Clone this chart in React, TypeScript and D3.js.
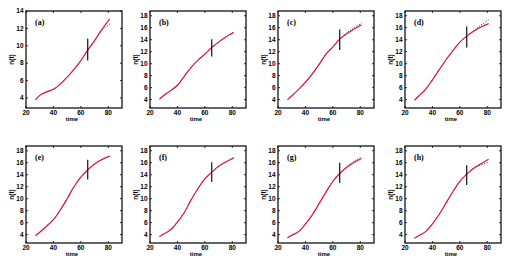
import * as d3 from "d3";

// shared time grid
const TIME = [27, 30, 35, 40, 45, 50, 55, 60, 65, 70, 75, 81];
const X_TICKS = [20, 40, 60, 80];
const Y_TICKS_A = [4, 6, 8, 10, 12, 14];
const Y_TICKS = [4, 6, 8, 10, 12, 14, 16, 18];
const LABELS = ["(a)", "(b)", "(c)", "(d)", "(e)", "(f)", "(g)", "(h)"];

// solid (red) curves, one per panel
const FIT_A = [3.8, 4.3, 4.7, 5.0, 5.6, 6.4, 7.3, 8.3, 9.5, 10.6, 11.8, 13.1];
const FIT_B = [4.1, 4.7, 5.5, 6.4, 7.9, 9.4, 10.6, 11.6, 12.7, 13.6, 14.4, 15.2];
const FIT_C = [4.0, 4.6, 5.7, 6.9, 8.3, 9.9, 11.6, 12.8, 14.1, 15.0, 15.7, 16.5];
const FIT_D = [3.9, 4.6, 5.7, 7.3, 9.0, 10.7, 12.2, 13.6, 14.6, 15.4, 16.1, 16.7];
const FIT_E = [3.85, 4.4, 5.4, 6.5, 8.1, 10.0, 12.0, 13.6, 14.8, 15.8, 16.5, 17.1];
const FIT_F = [3.7, 4.1, 4.8, 6.1, 7.7, 9.8, 11.7, 13.3, 14.4, 15.4, 16.1, 16.8];
const FIT_G = [3.5, 3.9, 4.5, 5.75, 7.3, 9.2, 11.1, 12.9, 14.2, 15.2, 16.0, 16.7];
const FIT_H = [3.4, 3.8, 4.5, 5.8, 7.4, 9.3, 11.2, 12.9, 14.1, 15.1, 15.8, 16.6];

// dotted curves (same up to ~70, then diverge)
const OBS_A = [3.8, 4.3, 4.7, 5.0, 5.6, 6.4, 7.3, 8.3, 9.5, 10.6, 11.7, 12.5];
const OBS_B = [4.1, 4.7, 5.5, 6.4, 7.9, 9.4, 10.6, 11.6, 12.7, 13.6, 14.4, 15.3];
const OBS_C = [4.0, 4.6, 5.7, 6.9, 8.3, 9.9, 11.6, 12.8, 14.1, 15.1, 15.9, 16.8];
const OBS_D = [3.9, 4.6, 5.7, 7.3, 9.0, 10.7, 12.2, 13.6, 14.6, 15.5, 16.4, 17.3];
const OBS_E = [3.85, 4.4, 5.4, 6.5, 8.1, 10.0, 12.0, 13.6, 14.8, 15.8, 16.5, 17.1];
const OBS_F = [3.7, 4.1, 4.8, 6.1, 7.7, 9.8, 11.7, 13.3, 14.4, 15.4, 16.1, 16.9];
const OBS_G = [3.5, 3.9, 4.5, 5.75, 7.3, 9.2, 11.1, 12.9, 14.2, 15.3, 16.2, 17.0];
const OBS_H = [3.4, 3.8, 4.5, 5.8, 7.4, 9.3, 11.2, 12.9, 14.1, 15.0, 15.6, 16.1];

// vertical bar at t = 65: [low, high]
const BAR_T = 65;
const BARS = [
  [8.3, 10.8],
  [11.2, 14.1],
  [12.3, 15.7],
  [12.7, 16.2],
  [13.2, 16.5],
  [12.8, 16.1],
  [12.6, 16.0],
  [12.3, 15.6],
];

const FITS = [FIT_A, FIT_B, FIT_C, FIT_D, FIT_E, FIT_F, FIT_G, FIT_H];
const OBS = [OBS_A, OBS_B, OBS_C, OBS_D, OBS_E, OBS_F, OBS_G, OBS_H];

const COL_LEFT = [26, 150, 278, 405];
const ROW_TOP = [11, 146];
const PW = 96;
const PH = 97;

const RED = "#e0163f";
const DOT = "#1c1c7a";

function Panel({ i }: { i: number }) {
  const left = COL_LEFT[i % 4];
  const top = ROW_TOP[Math.floor(i / 4)];
  const isA = i === 0;
  const x = d3.scaleLinear().domain([20, 90]).range([left, left + PW]);
  const y = d3
    .scaleLinear()
    .domain(isA ? [2.85, 14] : [2.6, 18.8])
    .range([top + PH, top]);
  const yTicks = isA ? Y_TICKS_A : Y_TICKS;
  const line = d3
    .line<number>()
    .x((_, k) => x(TIME[k]))
    .y((d) => y(d))
    .curve(d3.curveCatmullRom.alpha(0.5));
  const bottom = top + PH;
  const right = left + PW;
  const font = "'Liberation Sans', Arial, sans-serif";

  return (
    <g>
      <path d={line(OBS[i]) || ""} fill="none" stroke={DOT} strokeWidth={1} strokeDasharray="1 1.6" />
      <path d={line(FITS[i]) || ""} fill="none" stroke={RED} strokeWidth={1.2} />
      <line x1={x(BAR_T)} x2={x(BAR_T)} y1={y(BARS[i][0])} y2={y(BARS[i][1])} stroke="#111" strokeWidth={1.2} />

      {X_TICKS.map((t) => (
        <g key={"x" + t}>
          <line x1={x(t)} x2={x(t)} y1={bottom} y2={bottom - 2} stroke="#000" strokeWidth={0.8} />
          <line x1={x(t)} x2={x(t)} y1={top} y2={top + 2} stroke="#000" strokeWidth={0.8} />
          <text x={x(t)} y={bottom + 6.5} textAnchor="middle" fontSize={6.5} fontWeight="bold" fontFamily={font}>
            {t}
          </text>
        </g>
      ))}
      {yTicks.map((v) => (
        <g key={"y" + v}>
          <line x1={left} x2={left + 2} y1={y(v)} y2={y(v)} stroke="#000" strokeWidth={0.8} />
          <line x1={right} x2={right - 2} y1={y(v)} y2={y(v)} stroke="#000" strokeWidth={0.8} />
          <text x={left - 2.5} y={y(v) + 2.3} textAnchor="end" fontSize={6.5} fontWeight="bold" fontFamily={font}>
            {v}
          </text>
        </g>
      ))}
      <rect x={left} y={top} width={PW} height={PH} fill="none" stroke="#000" strokeWidth={1.2} />

      <text x={left + PW / 2 - 2} y={bottom + 13} textAnchor="middle" fontSize={6} fontWeight="bold" fontFamily={font}>
        time
      </text>
      <text
        transform={`translate(${left - 12},${top + PH / 2}) rotate(-90)`}
        textAnchor="middle"
        fontSize={6.5}
        fontWeight="bold"
        fontFamily={font}
      >
        n(t)
      </text>
      <text x={left + 9} y={top + 14} fontSize={8} fontWeight="bold" fontFamily="'Liberation Serif', 'Times New Roman', serif">
        {LABELS[i]}
      </text>
    </g>
  );
}

export default function App() {
  return (
    <svg
      width={515}
      height={271}
      style={{ position: "absolute", left: 0, top: 0, background: "#fff" }}
    >
      {LABELS.map((_, i) => (
        <Panel key={i} i={i} />
      ))}
    </svg>
  );
}
